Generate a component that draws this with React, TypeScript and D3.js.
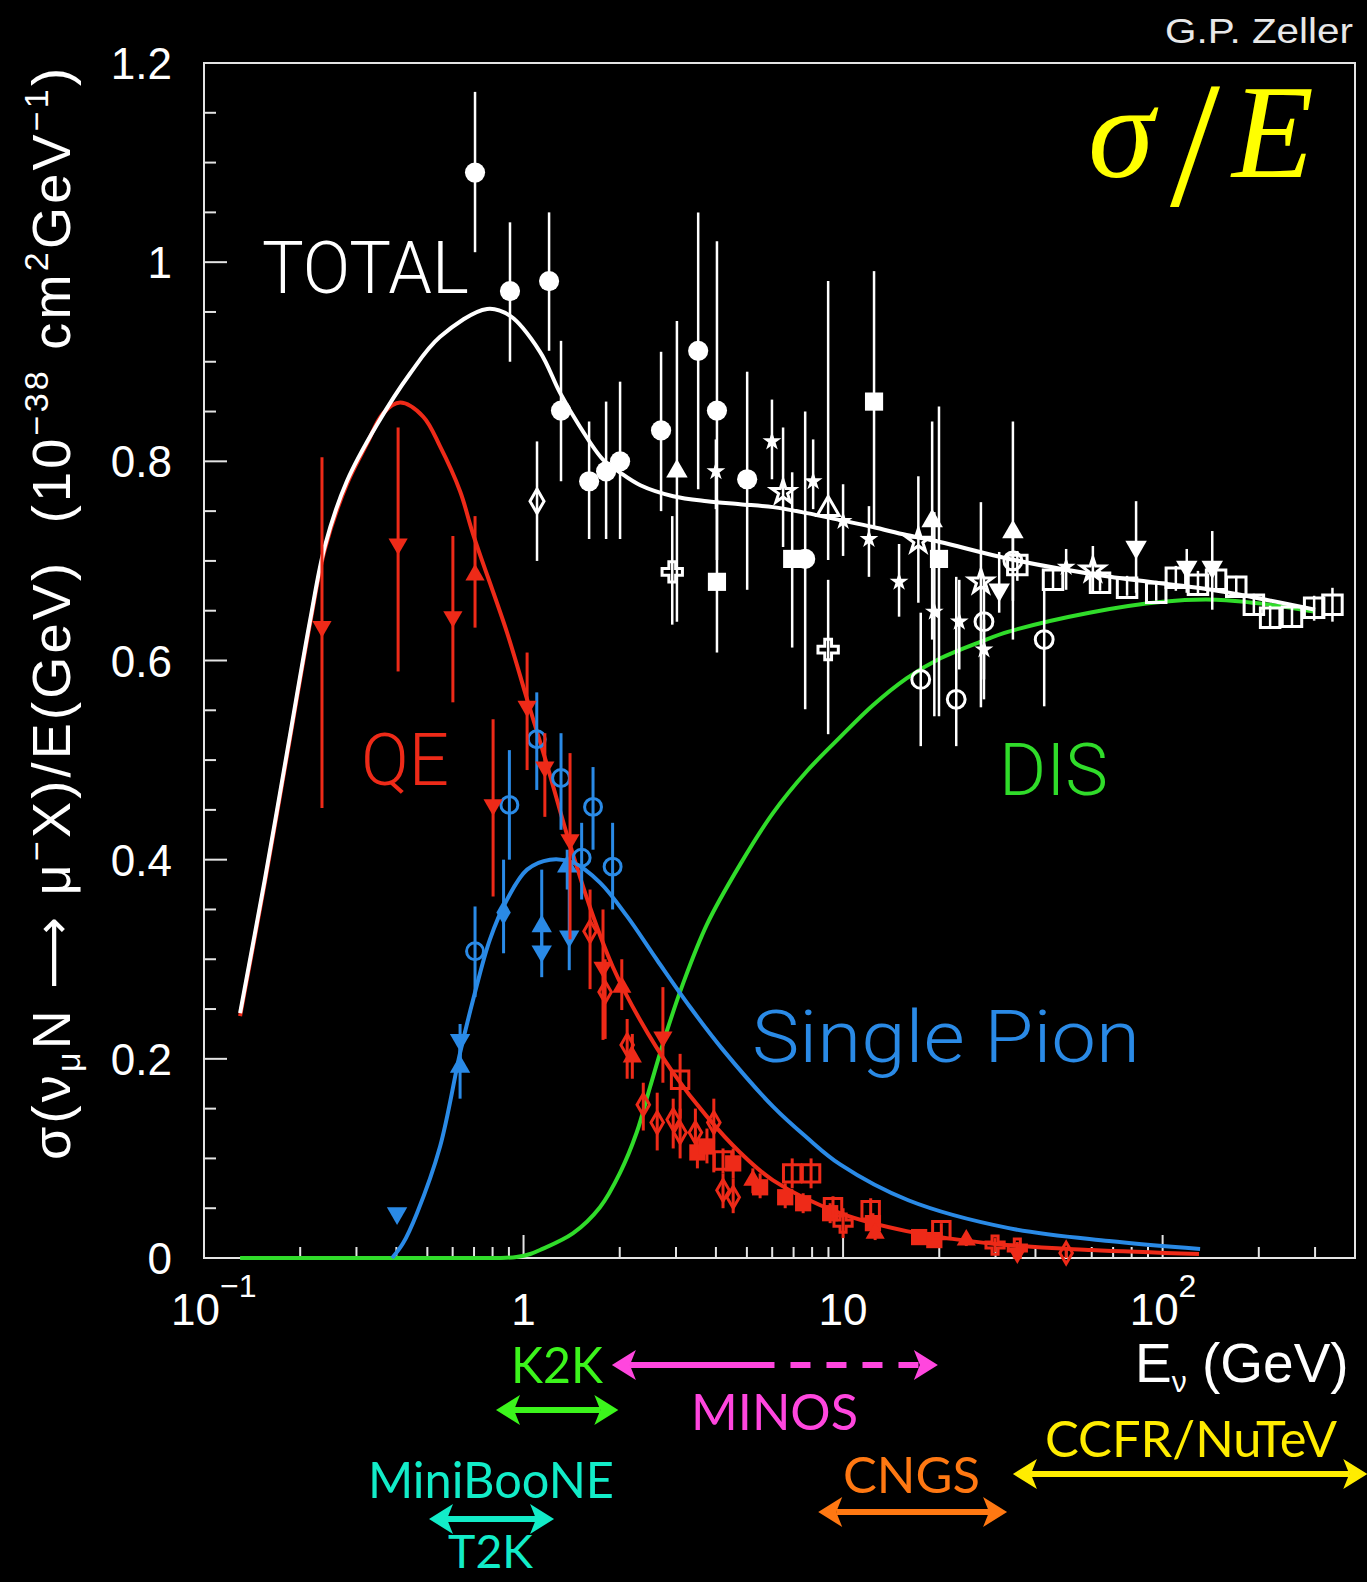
import React from 'react';
import * as d3 from 'd3';

const WIDTH = 1367;
const HEIGHT = 1582;
const PLOT = { left: 204, right: 1355, top: 63, bottom: 1258 };

const RED = '#ee2a18';
const BLUE = '#2a8ae6';
const GREEN = '#30dc2a';
const WHITE = '#ffffff';
const FRAME = '#e4e4e4';

// Model predictions, sigma/E in 1e-38 cm^2/GeV versus E (GeV)
const totalCurve: [number, number][] = [
  [0.1297, 0.246], [0.155, 0.38], [0.182, 0.508], [0.215, 0.641], [0.239, 0.715],
  [0.28, 0.78], [0.348, 0.837], [0.441, 0.888], [0.548, 0.925], [0.769, 0.953],
  [0.908, 0.946], [1.126, 0.91], [1.3, 0.869], [1.5, 0.835], [1.77, 0.802], [2.0, 0.789],
  [2.32, 0.776], [2.94, 0.765], [3.75, 0.76], [4.76, 0.757], [6.04, 0.754], [7.71, 0.748],
  [9.79, 0.741], [12.4, 0.734], [15.8, 0.726], [20.1, 0.719], [33.1, 0.702], [68.5, 0.684],
  [142, 0.671], [300, 0.651],
];

const qeCurve: [number, number][] = [
  [0.1297, 0.243], [0.155, 0.377], [0.182, 0.505], [0.215, 0.638], [0.239, 0.712],
  [0.28, 0.777], [0.324, 0.818], [0.363, 0.848], [0.411, 0.859], [0.485, 0.845],
  [0.548, 0.815], [0.633, 0.77], [0.695, 0.727], [0.888, 0.628], [1.026, 0.561],
  [1.185, 0.495], [1.368, 0.425], [1.615, 0.352], [1.905, 0.292], [2.316, 0.239],
  [2.94, 0.186], [3.75, 0.142], [4.76, 0.106], [6.04, 0.078], [9.79, 0.045],
  [15.8, 0.027], [30, 0.014], [60, 0.008], [130, 0.004],
];

const pionCurve: [number, number][] = [
  [0.388, 0.0], [0.42, 0.015], [0.464, 0.045], [0.548, 0.112], [0.633, 0.206],
  [0.695, 0.259], [0.785, 0.32], [0.888, 0.36], [1.026, 0.39], [1.21, 0.4],
  [1.43, 0.397], [1.735, 0.377], [2.11, 0.343], [2.62, 0.299], [3.32, 0.252],
  [4.21, 0.209], [6.04, 0.152], [7.7, 0.121], [9.79, 0.094], [16, 0.058], [33, 0.03],
  [68, 0.017], [131, 0.009],
];

// DIS stays at zero below ~1 GeV, then rises
const disFlat: [number, number][] = [[0.1297, 0.0], [0.85, 0.0]];
const disCurve: [number, number][] = [
  [0.85, 0.0], [0.95, 0.001], [1.05, 0.004], [1.126, 0.008],
  [1.43, 0.025], [1.735, 0.051], [2.0, 0.085], [2.26, 0.126], [2.49, 0.172],
  [2.81, 0.228], [3.16, 0.276], [3.75, 0.335], [4.76, 0.395], [6.04, 0.447],
  [7.71, 0.489], [9.79, 0.523], [12.4, 0.555], [15.8, 0.582], [20.1, 0.602],
  [27, 0.619], [33, 0.629], [59, 0.648], [100, 0.659], [147, 0.661], [217, 0.656],
  [300, 0.649],
];

// Measurements: [E, value, lower end of error bar, upper end, marker]
type Meas = [number, number, number, number, string];

const totalData: Meas[] = [
  [0.705, 1.09, 1.01, 1.171, 'fc'],
  [0.907, 0.971, 0.9, 1.04, 'fc'],
  [1.202, 0.981, 0.911, 1.05, 'fc'],
  [1.31, 0.851, 0.78, 0.921, 'fc'],
  [1.102, 0.76, 0.7, 0.82, 'od'],
  [1.604, 0.78, 0.722, 0.84, 'fc'],
  [1.813, 0.79, 0.722, 0.86, 'fc'],
  [2.005, 0.8, 0.722, 0.88, 'fc'],
  [2.694, 0.831, 0.75, 0.91, 'fc'],
  [3.02, 0.79, 0.639, 0.941, 'ftu'],
  [2.92, 0.689, 0.636, 0.745, 'ocr'],
  [3.52, 0.911, 0.772, 1.05, 'fc'],
  [4.03, 0.851, 0.701, 1.021, 'fc'],
  [4.03, 0.679, 0.608, 0.762, 'fs'],
  [4.0, 0.79, 0.752, 0.822, 'fst'],
  [5.01, 0.782, 0.671, 0.89, 'fc'],
  [5.99, 0.82, 0.782, 0.862, 'fst'],
  [6.49, 0.769, 0.714, 0.834, 'ost'],
  [6.93, 0.702, 0.613, 0.789, 'fs'],
  [7.61, 0.702, 0.551, 0.85, 'fc'],
  [8.06, 0.78, 0.752, 0.822, 'fst'],
  [8.98, 0.752, 0.701, 0.981, 'otu'],
  [8.98, 0.611, 0.526, 0.681, 'ocr'],
  [10.0, 0.74, 0.705, 0.777, 'fst'],
  [12.5, 0.86, 0.735, 0.991, 'fs'],
  [12.05, 0.722, 0.684, 0.755, 'fst'],
  [14.97, 0.679, 0.644, 0.717, 'fst'],
  [17.2, 0.72, 0.658, 0.785, 'ost'],
  [17.5, 0.581, 0.514, 0.648, 'oc'],
  [19.0, 0.74, 0.621, 0.84, 'ftu'],
  [19.3, 0.649, 0.544, 0.749, 'fst'],
  [19.96, 0.702, 0.544, 0.855, 'fs'],
  [22.6, 0.561, 0.514, 0.684, 'oc'],
  [23.1, 0.639, 0.591, 0.681, 'fst'],
  [27.0, 0.679, 0.553, 0.759, 'ost'],
  [27.6, 0.639, 0.561, 0.684, 'oc'],
  [27.6, 0.611, 0.581, 0.641, 'fst'],
  [30.8, 0.671, 0.648, 0.709, 'ftd'],
  [34.0, 0.729, 0.621, 0.84, 'ftu'],
  [34.0, 0.7, 0.66, 0.73, 'oc'],
  [35.1, 0.696, 0.68, 0.71, 'os'],
  [42.6, 0.621, 0.554, 0.671, 'oc'],
  [45.4, 0.681, 0.67, 0.69, 'os'],
  [49.9, 0.694, 0.671, 0.712, 'fst'],
  [60.5, 0.691, 0.668, 0.715, 'ost'],
  [63.7, 0.678, 0.67, 0.69, 'os'],
  [77.4, 0.673, 0.665, 0.685, 'os'],
  [82.6, 0.714, 0.668, 0.76, 'ftd'],
  [95.5, 0.668, 0.66, 0.68, 'os'],
  [110, 0.683, 0.67, 0.695, 'os'],
  [119, 0.694, 0.668, 0.712, 'ftd'],
  [129, 0.676, 0.665, 0.69, 'os'],
  [143, 0.694, 0.651, 0.73, 'ftd'],
  [147, 0.681, 0.67, 0.69, 'os'],
  [170, 0.674, 0.665, 0.685, 'os'],
  [193, 0.656, 0.645, 0.667, 'os'],
  [217, 0.643, 0.633, 0.655, 'os'],
  [254, 0.644, 0.633, 0.655, 'os'],
  [298, 0.653, 0.64, 0.665, 'os'],
  [340, 0.656, 0.639, 0.673, 'os'],
];

const qeData: Meas[] = [
  [0.234, 0.634, 0.452, 0.804, 'ftd'],
  [0.405, 0.717, 0.589, 0.834, 'ftd'],
  [0.601, 0.644, 0.558, 0.725, 'ftd'],
  [0.705, 0.686, 0.633, 0.745, 'ftu'],
  [0.803, 0.455, 0.363, 0.541, 'ftd'],
  [1.026, 0.554, 0.49, 0.608, 'ftd'],
  [1.166, 0.493, 0.443, 0.527, 'ftd'],
  [1.398, 0.42, 0.32, 0.507, 'ftd'],
  [1.615, 0.328, 0.27, 0.37, 'od'],
  [1.773, 0.292, 0.219, 0.35, 'ftd'],
  [1.8, 0.267, 0.22, 0.3, 'od'],
  [2.03, 0.272, 0.249, 0.3, 'ftu'],
  [2.11, 0.214, 0.18, 0.24, 'od'],
  [2.19, 0.202, 0.18, 0.225, 'ftu'],
  [2.73, 0.222, 0.176, 0.272, 'ftd'],
  [3.09, 0.179, 0.14, 0.205, 'os'],
  [2.37, 0.154, 0.128, 0.176, 'od'],
  [2.62, 0.136, 0.108, 0.166, 'od'],
  [2.94, 0.139, 0.11, 0.16, 'od'],
  [3.09, 0.126, 0.1, 0.15, 'od'],
  [3.45, 0.126, 0.1, 0.15, 'od'],
  [3.94, 0.136, 0.086, 0.16, 'od'],
  [3.5, 0.106, 0.09, 0.12, 'fs'],
  [3.75, 0.112, 0.095, 0.13, 'fs'],
  [4.21, 0.098, 0.085, 0.11, 'os'],
  [4.53, 0.095, 0.08, 0.11, 'fs'],
  [4.21, 0.068, 0.05, 0.085, 'od'],
  [4.53, 0.061, 0.045, 0.08, 'od'],
  [5.22, 0.078, 0.065, 0.09, 'ftu'],
  [5.5, 0.071, 0.06, 0.085, 'fs'],
  [6.93, 0.085, 0.07, 0.1, 'os'],
  [6.59, 0.061, 0.05, 0.075, 'fs'],
  [7.5, 0.055, 0.045, 0.065, 'fs'],
  [7.94, 0.085, 0.07, 0.1, 'os'],
  [9.11, 0.045, 0.035, 0.055, 'fs'],
  [9.3, 0.051, 0.04, 0.062, 'os'],
  [10.0, 0.035, 0.02, 0.05, 'ocr'],
  [12.2, 0.048, 0.04, 0.06, 'os'],
  [12.4, 0.035, 0.028, 0.045, 'fs'],
  [12.6, 0.025, 0.018, 0.033, 'ftu'],
  [17.3, 0.021, 0.015, 0.028, 'fs'],
  [19.3, 0.018, 0.012, 0.025, 'fs'],
  [20.3, 0.028, 0.02, 0.035, 'os'],
  [24.3, 0.018, 0.012, 0.024, 'ftu'],
  [29.9, 0.013, 0.006, 0.02, 'ocr'],
  [35.1, 0.01, 0.004, 0.016, 'ocr'],
  [35.1, 0.005, 0.0, 0.01, 'ftd'],
  [49.9, 0.005, 0.0, 0.01, 'od'],
];

const pionData: Meas[] = [
  [0.402, 0.045, 0.045, 0.045, 'ftd'],
  [0.633, 0.219, 0.2, 0.235, 'ftd'],
  [0.633, 0.192, 0.16, 0.21, 'ftu'],
  [0.705, 0.308, 0.262, 0.353, 'oc'],
  [0.866, 0.347, 0.306, 0.4, 'fd'],
  [0.903, 0.455, 0.4, 0.51, 'oc'],
  [1.1, 0.521, 0.47, 0.568, 'oc'],
  [1.31, 0.482, 0.43, 0.527, 'oc'],
  [1.14, 0.333, 0.3, 0.39, 'ftu'],
  [1.14, 0.308, 0.282, 0.33, 'ftd'],
  [1.39, 0.323, 0.289, 0.397, 'ftd'],
  [1.37, 0.393, 0.37, 0.41, 'ftu'],
  [1.52, 0.402, 0.36, 0.437, 'oc'],
  [1.65, 0.453, 0.41, 0.493, 'oc'],
  [1.9, 0.393, 0.35, 0.437, 'oc'],
];

// Axis ticks
const yMajor = [0, 0.2, 0.4, 0.6, 0.8, 1.0, 1.2];
const yLabels = ['0', '0.2', '0.4', '0.6', '0.8', '1', '1.2'];
const xMajor = [0.1, 1, 10, 100];
const xLabels: [string, string][] = [['10', '\u22121'], ['1', ''], ['10', ''], ['10', '2']];

// Beam energy coverage of experiments: [name, Emin, Emax, colour]
const beams: [string, number, number, string][] = [
  ['K2K', 0.82, 1.98, '#3cf51c'],
  ['MINOS', 1.89, 19.8, '#ff46de'],
  ['MiniBooNE', 0.506, 1.246, '#12ecc8'],
  ['CNGS', 8.36, 32.6, '#ff7812'],
  ['CCFR/NuTeV', 34, 437, '#ffec00'],
];
const minosSolidEnd = 6.1;

const SYMBOLS: Record<string, d3.SymbolType> = {
  fc: d3.symbolCircle, oc: d3.symbolCircle,
  fs: d3.symbolSquare, os: d3.symbolSquare,
  ftu: d3.symbolTriangle, ftd: d3.symbolTriangle, otu: d3.symbolTriangle,
  fst: d3.symbolStar, ost: d3.symbolStar,
  ocr: d3.symbolCross,
  od: d3.symbolDiamond, fd: d3.symbolDiamond,
};

const SIZES: Record<string, number> = {
  fc: 320, oc: 250, fs: 330, os: 380, ftu: 200, ftd: 200, otu: 210,
  fst: 110, ost: 170, ocr: 230, od: 170, fd: 200,
};

function MeasLayer({ data, x, y, color, scale, barWidth }: {
  data: Meas[]; x: (v: number) => number; y: (v: number) => number;
  color: string; scale: number; barWidth: number;
}) {
  return (
    <g>
      {data.map((d, i) => {
        const [e, v, lo, hi, m] = d;
        const cx = x(e);
        const cy = y(v);
        const size = SIZES[m] * scale;
        const path = d3.symbol(SYMBOLS[m], size)() as string;
        const open = m.startsWith('o');
        const rot = m === 'ftd' ? 180 : 0;
        return (
          <g key={i}>
            {hi > lo && (
              <line x1={cx} x2={cx} y1={y(lo)} y2={y(hi)} stroke={color} strokeWidth={barWidth} />
            )}
            <path
              d={path}
              transform={`translate(${cx},${cy}) rotate(${rot})`}
              fill={open ? 'none' : color}
              stroke={open ? color : 'none'}
              strokeWidth={open ? 3 : 0}
            />
          </g>
        );
      })}
    </g>
  );
}

function DoubleArrow({ x1, x2, y, color, solidEnd }: {
  x1: number; x2: number; y: number; color: string; solidEnd?: number;
}) {
  const hl = 24;
  const hw = 15;
  const notch = 6;
  const right = `M${x2},${y} L${x2 - hl},${y - hw} L${x2 - hl + notch},${y} L${x2 - hl},${y + hw} Z`;
  const left = `M${x1},${y} L${x1 + hl},${y - hw} L${x1 + hl - notch},${y} L${x1 + hl},${y + hw} Z`;
  const s1 = x1 + hl - notch;
  const s2 = x2 - hl + notch;
  return (
    <g>
      {solidEnd === undefined ? (
        <line x1={s1} x2={s2} y1={y} y2={y} stroke={color} strokeWidth={6} />
      ) : (
        <g>
          <line x1={s1} x2={solidEnd} y1={y} y2={y} stroke={color} strokeWidth={6} />
          <line x1={solidEnd + 16} x2={s2} y1={y} y2={y} stroke={color} strokeWidth={6} strokeDasharray="20 16" />
        </g>
      )}
      <path d={left} fill={color} />
      <path d={right} fill={color} />
    </g>
  );
}

export default function App() {
  const x = d3.scaleLog().domain([0.1, 400]).range([PLOT.left, PLOT.right]);
  const y = d3.scaleLinear().domain([0, 1.2]).range([PLOT.bottom, PLOT.top]);
  const smooth = d3
    .line<[number, number]>()
    .x((d) => x(d[0]))
    .y((d) => y(d[1]))
    .curve(d3.curveCatmullRom.alpha(0.5));
  const straight = d3
    .line<[number, number]>()
    .x((d) => x(d[0]))
    .y((d) => y(d[1]));

  const yMinor = d3.range(0, 1.2001, 0.05);
  const xMinor: number[] = [];
  [0.1, 1, 10, 100].forEach((dec) => {
    for (let k = 2; k <= 9; k++) {
      const v = dec * k;
      if (v <= 400) xMinor.push(v);
    }
  });

  const sans = 'Liberation Sans, Arial, Helvetica, sans-serif';
  const light = 'Roboto, Liberation Sans, Arial, sans-serif';
  const label = 'Lato, Noto Sans, Liberation Sans, sans-serif';
  const serif = 'Liberation Serif, Times New Roman, serif';
  const beamMap = Object.fromEntries(beams.map((b) => [b[0], b]));
  const arrowY: Record<string, number> = {
    K2K: 1410, MINOS: 1365, MiniBooNE: 1519, CNGS: 1512, 'CCFR/NuTeV': 1474,
  };

  return (
    <svg
      width={WIDTH}
      height={HEIGHT}
      style={{ position: 'absolute', left: 0, top: 0, display: 'block', background: '#000' }}
    >
      <rect x={0} y={0} width={WIDTH} height={HEIGHT} fill="#000" />

      {/* frame */}
      <rect
        x={PLOT.left}
        y={PLOT.top}
        width={PLOT.right - PLOT.left}
        height={PLOT.bottom - PLOT.top}
        fill="none"
        stroke={FRAME}
        strokeWidth={2}
      />

      {/* y ticks */}
      {yMinor.map((v, i) => {
        const major = Math.abs(Math.round(v / 0.2) * 0.2 - v) < 1e-6;
        return (
          <line key={`ym${i}`} x1={PLOT.left} x2={PLOT.left + (major ? 23 : 12)} y1={y(v)} y2={y(v)} stroke={FRAME} strokeWidth={2} />
        );
      })}
      {yMajor.map((v, i) => (
        <text key={`yl${i}`} x={172} y={y(v) + 16} textAnchor="end" fill={WHITE} fontFamily={sans} fontSize={44}>
          {yLabels[i]}
        </text>
      ))}

      {/* x ticks */}
      {xMinor.map((v, i) => (
        <line key={`xm${i}`} x1={x(v)} x2={x(v)} y1={PLOT.bottom} y2={PLOT.bottom - 11} stroke={FRAME} strokeWidth={2} />
      ))}
      {xMajor.map((v, i) => (
        <line key={`xM${i}`} x1={x(v)} x2={x(v)} y1={PLOT.bottom} y2={PLOT.bottom - 23} stroke={FRAME} strokeWidth={2} />
      ))}
      {xMajor.map((v, i) => {
        const [base, exp] = xLabels[i];
        if (!exp) {
          return (
            <text key={`xl${i}`} x={x(v)} y={1325} textAnchor="middle" fill={WHITE} fontFamily={sans} fontSize={44}>
              {base}
            </text>
          );
        }
        return (
          <g key={`xl${i}`}>
            <text x={x(v) + 16} y={1325} textAnchor="end" fill={WHITE} fontFamily={sans} fontSize={44}>{base}</text>
            <text x={x(v) + 16} y={1297} textAnchor="start" fill={WHITE} fontFamily={sans} fontSize={32}>{exp}</text>
          </g>
        );
      })}

      {/* axis titles */}
      <text
        transform="translate(70,1160) rotate(-90)"
        x={0}
        y={0}
        fill={WHITE}
        fontFamily={sans}
        fontSize={54}
        textLength={1092}
        lengthAdjust="spacing"
        style={{ whiteSpace: 'pre' }}
      >
        <tspan>σ(ν</tspan>
        <tspan dy={10} fontSize={34}>μ</tspan>
        <tspan dy={-10}>N </tspan>
        <tspan fontFamily="DejaVu Sans, sans-serif" fontSize={50}>⟶</tspan>
        <tspan> μ</tspan>
        <tspan dy={-22} fontSize={34}>−</tspan>
        <tspan dy={22}>X)/E(GeV)  (10</tspan>
        <tspan dy={-22} fontSize={34}>−38</tspan>
        <tspan dy={22}> cm</tspan>
        <tspan dy={-22} fontSize={34}>2</tspan>
        <tspan dy={22}>GeV</tspan>
        <tspan dy={-22} fontSize={34}>−1</tspan>
        <tspan dy={22}>)</tspan>
      </text>
      <text x={1135} y={1382} fill={WHITE} fontFamily={sans} fontSize={55} style={{ whiteSpace: 'pre' }}>
        <tspan>E</tspan>
        <tspan dy={10} fontSize={30}>ν</tspan>
        <tspan dy={-10}> (GeV)</tspan>
      </text>

      {/* model curves */}
      <path d={straight(disFlat) as string} fill="none" stroke={GREEN} strokeWidth={4} />
      <path d={smooth(disCurve) as string} fill="none" stroke={GREEN} strokeWidth={4} />
      <path d={smooth(pionCurve) as string} fill="none" stroke={BLUE} strokeWidth={4} />
      <path d={smooth(qeCurve) as string} fill="none" stroke={RED} strokeWidth={4} />
      <path d={smooth(totalCurve) as string} fill="none" stroke={WHITE} strokeWidth={4} />

      {/* measurements */}
      <MeasLayer data={totalData} x={x} y={y} color={WHITE} scale={1} barWidth={2.5} />
      <MeasLayer data={pionData} x={x} y={y} color={BLUE} scale={0.9} barWidth={3} />
      <MeasLayer data={qeData} x={x} y={y} color={RED} scale={0.8} barWidth={3} />

      {/* curve labels */}
      <text x={262} y={293} fill={WHITE} fontFamily={light} fontWeight={300} fontSize={73} textLength={207} lengthAdjust="spacingAndGlyphs">TOTAL</text>
      <text x={361} y={785} fill={RED} fontFamily={light} fontWeight={300} fontSize={73} textLength={88} lengthAdjust="spacingAndGlyphs">QE</text>
      <text x={999} y={795} fill={GREEN} fontFamily={light} fontWeight={300} fontSize={73} textLength={109} lengthAdjust="spacingAndGlyphs">DIS</text>
      <text x={752} y={1062} fill={BLUE} fontFamily={light} fontWeight={300} fontSize={73} textLength={388} lengthAdjust="spacingAndGlyphs">Single Pion</text>

      <text x={1165} y={43} fill="#e8e8e8" fontFamily={sans} fontSize={35} textLength={188} lengthAdjust="spacingAndGlyphs">G.P. Zeller</text>

      {/* sigma / E */}
      <text x={1088} y={177} fill="#ffff00" fontFamily={serif} fontStyle="italic" fontSize={134}>σ</text>
      <text x={1170} y={205} fill="#ffff00" fontFamily={serif} fontSize={180}>/</text>
      <text x={1232} y={177} fill="#ffff00" fontFamily={serif} fontStyle="italic" fontSize={134}>E</text>

      {/* experiment energy ranges */}
      {beams.map((b) => (
        <DoubleArrow
          key={b[0]}
          x1={x(b[1])}
          x2={x(b[2])}
          y={arrowY[b[0]]}
          color={b[3]}
          solidEnd={b[0] === 'MINOS' ? x(minosSolidEnd) : undefined}
        />
      ))}
      <text x={511} y={1383} fill={beamMap['K2K'][3]} fontFamily={label} fontSize={50} textLength={92} lengthAdjust="spacingAndGlyphs">K2K</text>
      <text x={691} y={1430} fill={beamMap['MINOS'][3]} fontFamily={label} fontSize={50} textLength={167} lengthAdjust="spacingAndGlyphs">MINOS</text>
      <text x={1045} y={1457} fill={beamMap['CCFR/NuTeV'][3]} fontFamily={label} fontSize={50} textLength={292} lengthAdjust="spacingAndGlyphs">CCFR/NuTeV</text>
      <text x={843} y={1493} fill={beamMap['CNGS'][3]} fontFamily={label} fontSize={50} textLength={137} lengthAdjust="spacingAndGlyphs">CNGS</text>
      <text x={368} y={1498} fill={beamMap['MiniBooNE'][3]} fontFamily={label} fontSize={50} textLength={246} lengthAdjust="spacingAndGlyphs">MiniBooNE</text>
      <text x={448} y={1568} fill={beamMap['MiniBooNE'][3]} fontFamily={label} fontSize={46} textLength={85} lengthAdjust="spacingAndGlyphs">T2K</text>
    </svg>
  );
}
